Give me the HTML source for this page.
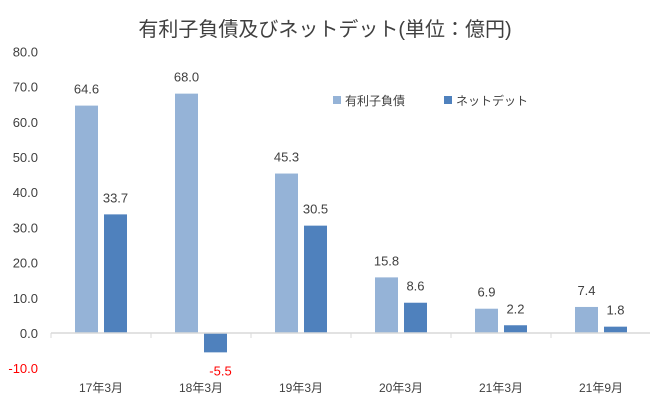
<!DOCTYPE html>
<html><head><meta charset="utf-8">
<style>
body{margin:0;background:#fff;}
svg{display:block;font-family:"Liberation Sans","Noto Sans CJK JP",sans-serif;}
</style></head>
<body>
<svg id="chart" width="650" height="405">
<text x="325" y="36" text-anchor="middle" font-size="20" fill="#404040">有利子負債及びネットデット(単位：億円)</text>
<g id="yaxis"></g>
<g id="bars"></g>
<g id="xaxis"></g>
<g>
<rect x="333" y="96" width="8" height="8" fill="#95B3D7"/>
<text x="345" y="105" font-size="12" fill="#404040">有利子負債</text>
<rect x="444" y="96" width="8" height="8" fill="#4F81BD"/>
<text x="456" y="105" font-size="12" fill="#404040">ネットデット</text>
</g>
</svg>
<script>
const categories=["17年3月","18年3月","19年3月","20年3月","21年3月","21年9月"];
const debt=[64.6,68.0,45.3,15.8,6.9,7.4];
const netDebt=[33.7,-5.5,30.5,8.6,2.2,1.8];
const yTicks=[-10,0,10,20,30,40,50,60,70,80];
const NS="http://www.w3.org/2000/svg";
const y=v=>333-v*3.52;
const x0=51,cw=100;
function mk(t,a,p){const e=document.createElementNS(NS,t);for(const k in a)e.setAttribute(k,a[k]);p.appendChild(e);return e;}
const ya=document.getElementById('yaxis'),bg=document.getElementById('bars'),xa=document.getElementById('xaxis');
yTicks.forEach(v=>{const t=mk('text',{x:38,y:y(v)+5,'text-anchor':'end','font-size':13,fill:v<0?'#FF0000':'#404040'},ya);t.textContent=v.toFixed(1);

});
const ax=mk('line',{x1:x0,x2:x0+cw*categories.length,y1:y(0),y2:y(0),stroke:'#D9D9D9','stroke-width':1.5},xa);


for(let i=0;i<=categories.length;i++){const tk=mk('line',{x1:x0+i*cw,x2:x0+i*cw,y1:y(0),y2:y(0)+5,stroke:'#D9D9D9'},xa);

}
categories.forEach((c,i)=>{const cx=x0+i*cw;
const t=mk('text',{x:cx+50,y:392,'text-anchor':'middle','font-size':12,fill:'#404040'},xa);t.textContent=c;


[[debt[i],24,'#95B3D7','bar-debt'],[netDebt[i],53,'#4F81BD','bar-netdebt']].forEach(([v,off,col,nm])=>{
const top=Math.min(y(v),y(0)),h=Math.abs(y(v)-y(0));
const r=mk('rect',{x:cx+off,y:top,width:23,height:h,fill:col},bg);


const ly=v>=0?y(v)-12:y(v)+23;
const l=mk('text',{x:cx+off+11.5+(v<0?5:0),y:ly,'text-anchor':'middle','font-size':13,fill:v<0?'#FF0000':'#404040'},bg);l.textContent=v.toFixed(1);

});
});
</script>
</body></html>
